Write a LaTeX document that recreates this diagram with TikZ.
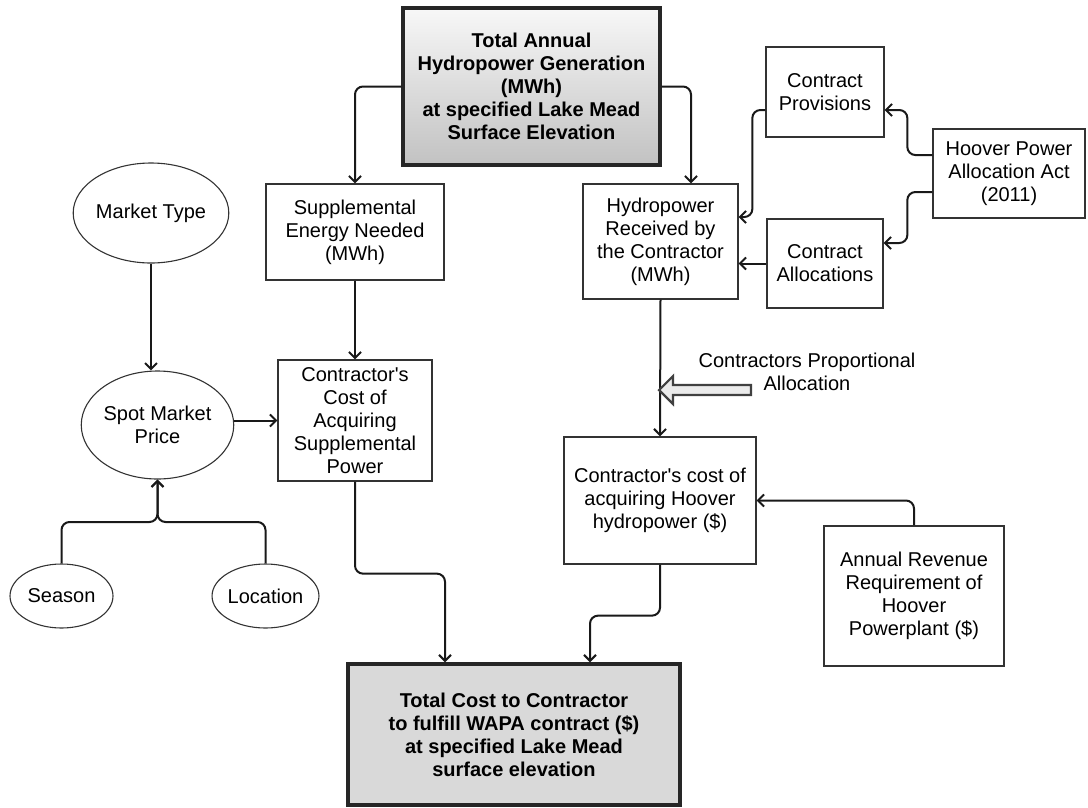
\documentclass[tikz,border=0pt]{standalone}
\usepackage{fontspec}
\setmainfont{Liberation Sans}
\usepackage{tikz}
\usetikzlibrary{
  positioning,
  calc,
  arrows.meta,
  shapes.geometric
}
\newcommand{\boxfont}{\fontsize{20pt}{23pt}\selectfont}
\tikzstyle{box}=[draw=black!80, line width=1.3pt, rectangle, align=center, inner sep=0pt]
\tikzstyle{oval}=[draw=black!80, line width=1.1pt, ellipse, align=center, inner sep=0pt]
\tikzstyle{bigbox}=[box, line width=3.5pt, draw=black!85, font=\boxfont\bfseries]
\tikzstyle{arr}=[-{Straight Barb[length=6pt,width=12pt]}, line width=2pt, draw=black!90, rounded corners=8pt]
\tikzstyle{fatarrow}=[draw=black!75, line width=2.2pt, fill=black!8, line join=miter]

\begin{document}
\begin{tikzpicture}[x=1pt, y=-1pt, font=\boxfont]
    \useasboundingbox (0,0) rectangle (1088,807);

    % 上段
    \node[bigbox, top color=black!3, bottom color=black!24, minimum width=257pt, minimum height=157pt]
      (gen) at (531.5,86.5) {Total Annual\\Hydropower Generation\\(MWh)\\at specified Lake Mead\\Surface Elevation};
    \node[box, minimum width=118pt, minimum height=90pt] (prov) at (825,92) {Contract\\Provisions};
    \node[box, minimum width=152pt, minimum height=89pt] (act) at (1009,173.5) {Hoover Power\\Allocation Act\\(2011)};

    % 中段
    \node[oval, minimum width=128pt, minimum height=100pt] (mtype) at (151,213) {Market Type};
    \node[box, minimum width=178pt, minimum height=96pt] (supp) at (355,232) {Supplemental\\Energy Needed\\(MWh)};
    \node[box, minimum width=155pt, minimum height=115pt] (hydro) at (660.5,241.5) {Hydropower\\Received by\\the Contractor\\(MWh)};
    \node[box, minimum width=116pt, minimum height=89pt] (alloc) at (825,263.5) {Contract\\Allocations};

    \node[oval, minimum width=141pt, minimum height=108pt] (spot) at (157.5,425) {Spot Market\\Price};
    \node[box, minimum width=154pt, minimum height=121pt] (cost) at (355,420.5) {Contractor\textquotesingle s\\Cost of\\Acquiring\\Supplemental\\Power};
    \node[align=center, inner sep=0pt] (propalloc) at (807,372) {Contractors Proportional\\Allocation};
    \node[box, minimum width=192pt, minimum height=127pt] (hcost) at (660,500.5) {Contractor\textquotesingle s cost of\\acquiring Hoover\\hydropower (\$)};

    % 下段
    \node[oval, minimum width=103pt, minimum height=64pt] (season) at (61.5,596) {Season};
    \node[oval, minimum width=103pt, minimum height=64pt] (location) at (265.5,596) {Location};
    \node[box, line width=1.7pt, minimum width=180pt, minimum height=140pt] (rev) at (914,596) {Annual Revenue\\Requirement of\\Hoover\\Powerplant (\$)};
    \node[bigbox, fill=black!15, minimum width=332pt, minimum height=141pt]
      (total) at (514,734.5) {Total Cost to Contractor\\to fulfill WAPA contract (\$)\\at specified Lake Mead\\surface elevation};

    % 矢印
    \draw[arr] (gen.west) -| (supp.north);
    \draw[arr] (gen.east) -| ($(hydro.north)+(30.5,0)$);
    \draw[arr] ($(prov.west)+(0,18)$) -- ++(-13,0) |- ($(hydro.east)+(0,-24.5)$);
    \draw[arr] (alloc.west) -- (alloc.west -| hydro.east);
    \draw[arr] ($(act.west)+(0,-18.5)$) -- ++(-25,0) |- ($(prov.east)+(0,18)$);
    \draw[arr] ($(act.west)+(0,18.5)$) -- ++(-25,0) |- ($(alloc.east)+(0,-20.5)$);

    \draw[arr] (mtype.south) -- (mtype.south |- spot.north);
    \draw[arr] (supp.south) -- (cost.north);
    \draw[arr] (cost.west -| spot.east) -- (cost.west);
    \coordinate (join) at (157.5,522);
    \draw[arr] (season.north) |- (join) -- (spot.south);
    \draw[arr] (location.north) |- (join) -- (spot.south);

    \draw[arr] (hydro.south) -- (hcost.north);
    \draw[arr] (rev.north) |- (hcost.east);
    \draw[arr] (cost.south) -- ++(0,92) -| ($(total.north)+(-69,0)$);
    \draw[arr] (hcost.south) -- ++(0,51) -| ($(total.north)+(76,0)$);

    % 白抜き矢印
    \draw[fatarrow] (hydro.south |- propalloc.south) ++(-1.5,-1)
      -- ++(14,-14) -- ++(0,9) -- ++(78,0) -- ++(0,10) -- ++(-78,0) -- ++(0,9) -- cycle;
\end{tikzpicture}
\end{document}
